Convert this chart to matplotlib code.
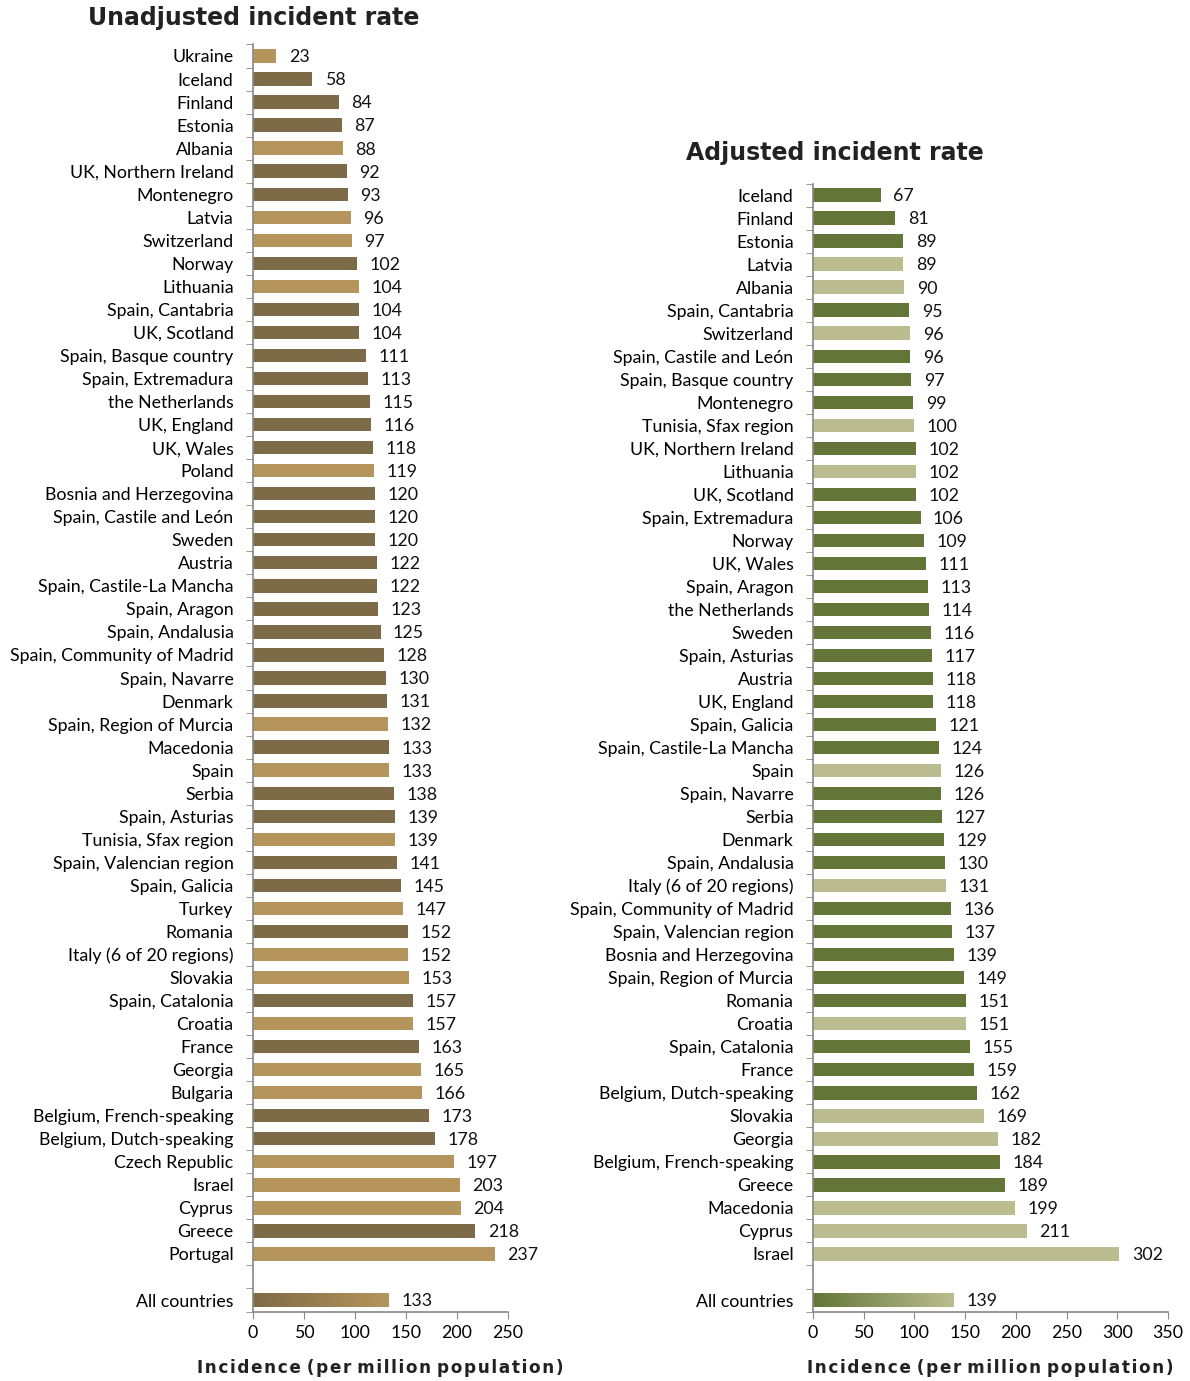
import numpy as np
import matplotlib.pyplot as plt
from matplotlib.colors import LinearSegmentedColormap

# unadjusted incident rate
unadj_names = ["Ukraine", "Iceland", "Finland", "Estonia", "Albania", "UK, Northern Ireland",
               "Montenegro", "Latvia", "Switzerland", "Norway", "Lithuania", "Spain, Cantabria",
               "UK, Scotland", "Spain, Basque country", "Spain, Extremadura", "the Netherlands",
               "UK, England", "UK, Wales", "Poland", "Bosnia and Herzegovina",
               "Spain, Castile and León", "Sweden", "Austria", "Spain, Castile-La Mancha",
               "Spain, Aragon", "Spain, Andalusia", "Spain, Community of Madrid", "Spain, Navarre",
               "Denmark", "Spain, Region of Murcia", "Macedonia", "Spain", "Serbia",
               "Spain, Asturias", "Tunisia, Sfax region", "Spain, Valencian region",
               "Spain, Galicia", "Turkey", "Romania", "Italy (6 of 20 regions)", "Slovakia",
               "Spain, Catalonia", "Croatia", "France", "Georgia", "Bulgaria",
               "Belgium, French-speaking", "Belgium, Dutch-speaking", "Czech Republic", "Israel",
               "Cyprus", "Greece", "Portugal"]
unadj_vals = [23, 58, 84, 87, 88, 92, 93, 96, 97, 102, 104, 104, 104, 111, 113, 115, 116, 118,
              119, 120, 120, 120, 122, 122, 123, 125, 128, 130, 131, 132, 133, 133, 138, 139,
              139, 141, 145, 147, 152, 152, 153, 157, 157, 163, 165, 166, 173, 178, 197, 203,
              204, 218, 237]
unadj_light = ["Ukraine", "Albania", "Latvia", "Switzerland", "Lithuania", "Poland",
               "Spain, Region of Murcia", "Spain", "Tunisia, Sfax region", "Turkey",
               "Italy (6 of 20 regions)", "Slovakia", "Croatia", "Georgia", "Bulgaria",
               "Czech Republic", "Israel", "Cyprus", "Portugal"]
unadj_all = 133

# adjusted incident rate
adj_names = ["Iceland", "Finland", "Estonia", "Latvia", "Albania", "Spain, Cantabria",
             "Switzerland", "Spain, Castile and León", "Spain, Basque country", "Montenegro",
             "Tunisia, Sfax region", "UK, Northern Ireland", "Lithuania", "UK, Scotland",
             "Spain, Extremadura", "Norway", "UK, Wales", "Spain, Aragon", "the Netherlands",
             "Sweden", "Spain, Asturias", "Austria", "UK, England", "Spain, Galicia",
             "Spain, Castile-La Mancha", "Spain", "Spain, Navarre", "Serbia", "Denmark",
             "Spain, Andalusia", "Italy (6 of 20 regions)", "Spain, Community of Madrid",
             "Spain, Valencian region", "Bosnia and Herzegovina", "Spain, Region of Murcia",
             "Romania", "Croatia", "Spain, Catalonia", "France", "Belgium, Dutch-speaking",
             "Slovakia", "Georgia", "Belgium, French-speaking", "Greece", "Macedonia",
             "Cyprus", "Israel"]
adj_vals = [67, 81, 89, 89, 90, 95, 96, 96, 97, 99, 100, 102, 102, 102, 106, 109, 111, 113,
            114, 116, 117, 118, 118, 121, 124, 126, 126, 127, 129, 130, 131, 136, 137, 139,
            149, 151, 151, 155, 159, 162, 169, 182, 184, 189, 199, 211, 302]
adj_light = ["Latvia", "Albania", "Switzerland", "Tunisia, Sfax region", "Lithuania", "Spain",
             "Italy (6 of 20 regions)", "Croatia", "Slovakia", "Georgia", "Macedonia",
             "Cyprus", "Israel"]
adj_all = 139

BROWN_D, BROWN_L = "#7d6a46", "#b5955c"
GREEN_D, GREEN_L = "#637637", "#bbbd91"
LABEL_FONT = ["Lato", "DejaVu Sans"]
TITLE_FONT = "DejaVu Sans"
XLABEL = "Incidence (per million population)"


def spaced(s):
    # a little letter spacing, like the original axis title
    return " ".join("\u200a".join(w) for w in s.split(" "))


def draw_panel(ax, names, vals, light, all_val, c_dark, c_light, xmax):
    n = len(names)
    pos = np.arange(n)
    cols = [c_light if nm in light else c_dark for nm in names]
    bh = 0.58
    ax.barh(pos, vals, height=bh, color=cols, edgecolor="none")
    for p, v in zip(pos, vals):
        ax.annotate(str(v), (v, p), xytext=(9, -1), textcoords="offset points",
                    va="center", ha="left", fontsize=12.8, family=LABEL_FONT, color="#111111")

    # "All countries" row after one blank slot, gradient fill
    pa = n + 1
    bar = ax.barh([pa], [all_val], height=bh, color="none", edgecolor="none")[0]
    cmap = LinearSegmentedColormap.from_list("g", [c_dark, c_light])
    grad = np.linspace(0, 1, 256).reshape(1, -1)
    im = ax.imshow(grad, cmap=cmap, aspect="auto",
                   extent=(0, all_val, pa + bh / 2, pa - bh / 2), zorder=2)
    im.set_clip_path(bar)
    ax.annotate(str(all_val), (all_val, pa), xytext=(9, -1), textcoords="offset points",
                va="center", ha="left", fontsize=12.8, family=LABEL_FONT, color="#111111")

    ax.set_yticks(list(pos) + [pa])
    ax.set_yticklabels(list(names) + ["All countries"], family=LABEL_FONT, fontsize=12.8)
    ax.set_yticks(np.arange(-0.5, pa + 1), minor=True)
    ax.tick_params(axis="y", which="major", length=0, pad=14)
    ax.tick_params(axis="y", which="minor", length=5, color="#888888", direction="out")
    ax.set_ylim(pa + 0.5, -0.5)

    ax.set_xlim(0, xmax)
    ax.set_xticks(np.arange(0, xmax + 1, 50))
    for lab in ax.get_xticklabels():
        lab.set_family(LABEL_FONT)
    ax.tick_params(axis="x", length=5, color="#888888", labelsize=12.8, pad=5)
    ax.set_xlabel(spaced(XLABEL), fontsize=12.2, fontweight="bold",
                  family=TITLE_FONT, color="#222222", labelpad=13)
    for s in ["top", "right"]:
        ax.spines[s].set_visible(False)
    for s in ["left", "bottom"]:
        ax.spines[s].set_color("#888888")
        ax.spines[s].set_linewidth(1.2)


fig = plt.figure(figsize=(11.9, 13.81), dpi=100)
ax1 = fig.add_axes([0.2126, 0.0503, 0.2143, 0.9175])
ax2 = fig.add_axes([0.6832, 0.0503, 0.2983, 0.8168])

draw_panel(ax1, unadj_names, unadj_vals, unadj_light, unadj_all, BROWN_D, BROWN_L, 250)
draw_panel(ax2, adj_names, adj_vals, adj_light, adj_all, GREEN_D, GREEN_L, 350)

fig.text(254 / 1190, 1 - 18 / 1381, "Unadjusted incident rate", ha="center", va="center",
         fontsize=17, fontweight="bold", family=TITLE_FONT, color="#222222")
fig.text(835 / 1190, 1 - 153 / 1381, "Adjusted incident rate", ha="center", va="center",
         fontsize=17, fontweight="bold", family=TITLE_FONT, color="#222222")

fig.savefig("out.png", dpi=100)
